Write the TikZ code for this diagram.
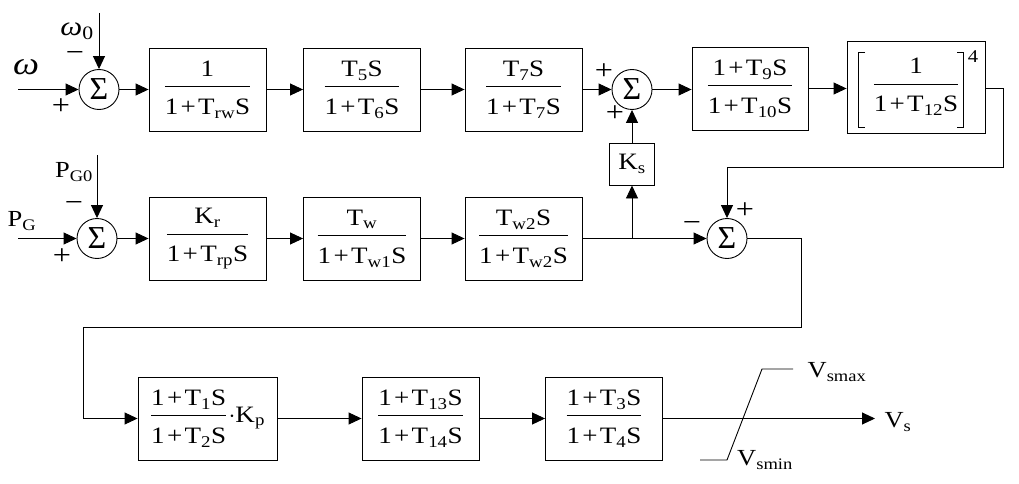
\documentclass[tikz,border=0pt]{standalone}
\usepackage{amsmath}
\usepackage{fontspec}
\setmainfont{Liberation Serif}[FakeStretch=1.15]
\newfontfamily\plainfont{Liberation Serif}
\usetikzlibrary{arrows.meta}
\newcommand\fr[2]{$\displaystyle\frac{\mbox{#1}}{\mbox{\rule{0pt}{24pt}#2}}$}
\newcommand\mysb[1]{$_\text{#1}$}
\newcommand\pl{\hspace{0.1em}+\hspace{0.1em}}
\begin{document}
\begin{tikzpicture}[x=1pt,y=-1pt,
  blk/.style={draw, line width=0.9pt, minimum height=83pt, minimum width=117pt, inner sep=0pt, font=\fontsize{23.5}{28}\selectfont},
  sumc/.style={draw, circle, minimum size=40pt, inner sep=0pt, line width=0.9pt, font=\fontsize{32}{34}\plainfont},
  arr/.style={-{Triangle[length=13pt,width=12pt]}, line width=0.9pt},
  ln/.style={line width=0.9pt},
  lbl/.style={inner sep=0pt, font=\fontsize{23}{27}\selectfont},
  sgn/.style={inner sep=0pt, font=\fontsize{28}{30}\selectfont}]
\useasboundingbox (0,0) rectangle (1019,484);
% row 1
\node[sumc] (s1) at (99,89.5) {Σ};
\node[blk] (b1) at (207.5,89.5) {\fr{1}{1\pl T\mysb{rw}S}};
\node[blk] (b2) at (362,89.5) {\fr{T\mysb{5}S}{1\pl T\mysb{6}S}};
\node[blk] (b3) at (523.5,89.5) {\fr{T\mysb{7}S}{1\pl T\mysb{7}S}};
\node[sumc] (s2) at (632,89.5) {Σ};
\node[blk, minimum width=116pt] (b4) at (750,88.5) {\fr{1\pl T\mysb{9}S}{1\pl T\mysb{10}S}};
\node[blk, minimum width=138pt, minimum height=92pt] (b5) at (916,87) {\fr{1}{1\pl T\mysb{12}S}};
\draw[line width=0.7pt] (865,52) -- (858,52) -- (858,127) -- (865,127);
\draw[line width=0.7pt] (957,52) -- (963,52) -- (963,127) -- (957,127);
\node[lbl, font=\fontsize{18}{21}\selectfont] (p4) at (973,57) {4};
% row 2
\node[sumc] (s3) at (97,238.5) {Σ};
\node[blk] (c1) at (207.5,238.5) {\fr{K\mysb{r}}{1\pl T\mysb{rp}S}};
\node[blk] (c2) at (362,238.5) {\fr{T\mysb{w}}{1\pl T\mysb{w1}S}};
\node[blk] (c3) at (523.5,238.5) {\fr{T\mysb{w2}S}{1\pl T\mysb{w2}S}};
\node[blk, minimum width=45pt, minimum height=42pt] (ks) at (632,164) {K\mysb{s}};
\node[sumc] (s4) at (727,238.5) {Σ};
% row 3
\node[blk, minimum width=139pt] (d1) at (207.5,418.5) {\fr{1\pl T\mysb{1}S}{1\pl T\mysb{2}S}\hspace{0.05em}$\cdot$K\mysb{p}};
\node[blk] (d2) at (420.5,418.5) {\fr{1\pl T\mysb{13}S}{1\pl T\mysb{14}S}};
\node[blk] (d3) at (604,418.5) {\fr{1\pl T\mysb{3}S}{1\pl T\mysb{4}S}};
% labels
\node[lbl, font=\fontsize{32}{34}\selectfont\itshape] (lw) at (26,67) {ω};
\node[lbl, font=\fontsize{27}{30}\selectfont] (lw0) at (77,31) {\textit{ω}\mysb{0}};
\node[lbl] (lpg) at (22,221) {P\mysb{G}};
\node[lbl] (lpg0) at (74,172) {P\mysb{G0}};
\node[lbl] (lvs) at (898,422) {V\mysb{s}};
\node[lbl] (lvmax) at (837,372) {V\mysb{smax}};
\node[lbl] (lvmin) at (765,460) {V\mysb{smin}};
\node[sgn] at (75,57) {−};
\node[sgn] at (61,107) {+};
\node[sgn] at (74,207) {−};
\node[sgn] at (62,257) {+};
\node[sgn] at (604,72) {+};
\node[sgn] at (615,114) {+};
\node[sgn] at (692,227) {−};
\node[sgn] at (745,211) {+};
% coordinates
\coordinate (win) at (18,89.5);
\coordinate (w0) at (99,13);
\coordinate (pgin) at (18,238.5);
\coordinate (pg0) at (97,155);
\coordinate (br) at (632,238.5);
\coordinate (fb) at (1003,167);
\coordinate (k1) at (801,327);
\coordinate (k2) at (83,327);
\coordinate (vout) at (875,418.5);
% connectors
\draw[arr] (win) -- (s1);
\draw[arr] (w0) -- (s1);
\draw[arr] (s1) -- (b1);
\draw[arr] (b1) -- (b2);
\draw[arr] (b2) -- (b3);
\draw[arr] (b3) -- (s2);
\draw[arr] (s2.east) -- (s2.east -| b4.west);
\draw[arr] (b4.east) -- (b4.east -| b5.west);
\draw[arr] (b5.east |- b4.east) -| (fb) -| (s4.north);
\draw[arr] (pgin) -- (s3);
\draw[arr] (pg0) -- (s3);
\draw[arr] (s3) -- (c1);
\draw[arr] (c1) -- (c2);
\draw[arr] (c2) -- (c3);
\draw[arr] (c3) -- (s4);
\draw[arr] (br) -- (ks);
\draw[arr] (ks) -- (s2);
\draw[arr] (s4.east) -| (k1) -- (k2) |- (d1.west);
\draw[arr] (d1) -- (d2);
\draw[arr] (d2) -- (d3);
\draw[arr] (d3) -- (vout);
\draw[ln] (700,460) -- (727,460) -- (762,369) -- (793,369);
\end{tikzpicture}
\end{document}
